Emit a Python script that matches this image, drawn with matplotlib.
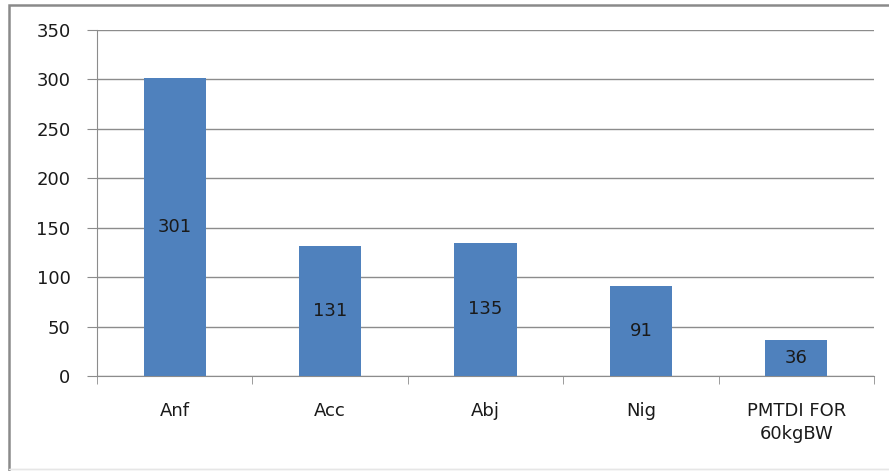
import matplotlib.pyplot as plt
from matplotlib.patches import Rectangle

categories = ['Anf', 'Acc', 'Abj', 'Nig', 'PMTDI FOR\n60kgBW']
values = [301, 131, 135, 91, 36]

W, H = 889, 471
fig = plt.figure(figsize=(W / 100, H / 100), dpi=100)
plt.rcParams['font.family'] = ['DejaVu Sans']

# chart frame (right and bottom edges run off the canvas)
fig.patches.append(Rectangle((9 / W, -10 / H), 900 / W, 476 / H, transform=fig.transFigure,
                             fill=False, edgecolor='#8a8a8a', linewidth=1.8))
fig.patches.append(Rectangle((9 / W, 2 / H), 900 / W, 0, transform=fig.transFigure,
                             fill=False, edgecolor='#e6e6e6', linewidth=1))

ax = fig.add_axes([97 / W, 1 - 376 / H, (874 - 97) / W, (376 - 30) / H])
x = list(range(len(categories)))
bars = ax.bar(x, values, width=0.4, color='#4F81BD', zorder=3)
for b, v in zip(bars, values):
    ax.text(b.get_x() + b.get_width() / 2, v / 2, str(v), ha='center', va='center',
            fontsize=13, color='#1a1a1a', zorder=4)

ax.set_xlim(-0.5, len(categories) - 0.5)
ax.set_ylim(0, 350)
ax.set_yticks(range(0, 351, 50))
ax.yaxis.grid(True, color='#8c8c8c', linewidth=1)
ax.set_axisbelow(True)

ax.set_xticks(x)
ax.set_xticklabels(categories, fontsize=13, color='#1a1a1a', linespacing=1.3)
ax.set_xticks([i - 0.5 for i in range(len(categories) + 1)], minor=True)
ax.tick_params(axis='x', which='major', length=0, pad=19)
ax.tick_params(axis='x', which='minor', length=6, color='#8c8c8c', direction='out')
ax.tick_params(axis='y', length=7, color='#8c8c8c', labelsize=13, labelcolor='#1a1a1a', pad=12)

for side in ['top', 'right']:
    ax.spines[side].set_visible(False)
for side in ['left', 'bottom']:
    ax.spines[side].set_color('#8c8c8c')

fig.savefig('out.png', dpi=100)
